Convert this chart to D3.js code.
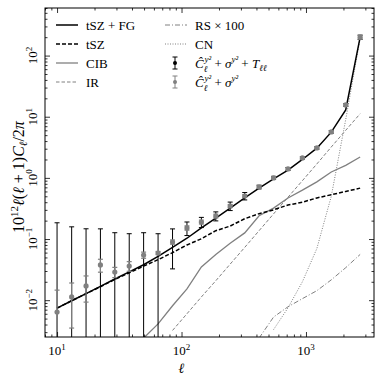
<!DOCTYPE html>
<html>
<head>
<meta charset="utf-8">
<script src="https://cdn.jsdelivr.net/npm/d3@7"></script>
<style>
  body { margin: 0; background: #fff; }
  text { font-family: "Liberation Serif", "DejaVu Serif", serif; fill: #000; }
</style>
</head>
<body>
<div id="chart_area"></div>
<script>
// multipole bins
var ell = [10, 13.1, 17.1, 22.3, 29.1, 38.0, 49.6, 64.8, 84.7, 110.6, 144.4, 188.6,
           246, 322, 420, 549, 717, 936, 1223, 1597, 2086, 2724];

// measured points, C_hat + sigma
var cHat = [0.0064, 0.0113, 0.0171, 0.0377, 0.0289, 0.0362, 0.0548, 0.0591, 0.0895, 0.152,
            0.190, 0.238, 0.347, 0.506, 0.710, 1.00, 1.40, 2.12, 3.09, 5.64, 15.6, 200];
var errGray = [0.0082, 0.0078, 0.0078, 0.009, 0.0055, 0.0065, 0.0063, 0.0035, 0.007, 0.012,
               0.014, 0.017, 0.02, 0.025, 0.03, 0.04, 0.06, 0.08, 0.12, 0.25, 0.7, 14];
var errBlack = [0.178, 0.147, 0.130, 0.109, 0.098, 0.086, 0.072, 0.063, 0.057, 0.038,
                0.036, 0.04, 0.055, 0.07, 0.05, 0.06, 0.08, 0.1, 0.14, 0.28, 0.8, 16];

// model curves
var totFG = [0.0074, 0.0098, 0.0128, 0.0168, 0.0222, 0.029, 0.038, 0.052, 0.073, 0.103,
             0.152, 0.22, 0.32, 0.47, 0.68, 0.96, 1.34, 2.0, 3.06, 5.6, 12.9, 200];
var tsz = [0.0074, 0.0098, 0.0128, 0.0166, 0.0218, 0.028, 0.036, 0.046, 0.060, 0.080,
           0.101, 0.137, 0.163, 0.215, 0.26, 0.30, 0.36, 0.40, 0.47, 0.53, 0.60, 0.68];
var cib = [null, null, null, null, null, null, 0.0024, 0.0041, 0.0081, 0.0153,
           0.035, 0.056, 0.0855, 0.126, 0.24, 0.32, 0.47, 0.63, 0.86, 1.25, 1.6, 2.2];
var ir = [null, null, null, null, null, null, null, null, 0.0032, 0.0060,
          0.0113, 0.0208, 0.0389, 0.073, 0.137, 0.258, 0.483, 0.90, 1.69, 3.2, 6.0, 11.2];
var rs = [null, null, null, null, null, null, null, null, null, null,
          null, null, null, null, 0.0024, 0.0053, 0.0078, 0.0106, 0.0143, 0.0215, 0.034, 0.056];
var cn = [null, null, null, null, null, null, null, null, null, null,
          null, null, null, null, null, 0.0033, 0.0075, 0.02, 0.07, 0.5, 9, 190];

var xTicks = [10, 100, 1000];
var yTicks = [0.01, 0.1, 1, 10, 100];

var W = 382, H = 382;
var m = {left: 45, right: 8, top: 8, bottom: 45};

var svg = d3.select("#chart_area").append("svg")
    .attr("width", W).attr("height", H);

var x = d3.scaleLog().domain([8.0, 3520]).range([m.left, W - m.right]);
var y = d3.scaleLog().domain([0.0025, 600]).range([H - m.bottom, m.top]);

svg.append("clipPath").attr("id", "clip").append("rect")
    .attr("x", m.left).attr("y", m.top)
    .attr("width", W - m.left - m.right).attr("height", H - m.top - m.bottom);

var plot = svg.append("g").attr("clip-path", "url(#clip)");

function series(vals) {
    return ell.map(function (l, i) { return {l: l, v: vals[i]}; });
}
var line = d3.line()
    .defined(function (d) { return d.v != null; })
    .x(function (d) { return x(d.l); })
    .y(function (d) { return y(d.v); });

var grey = "#808080";
var curves = [
    {vals: cn, color: grey, width: 1, dash: "1,1.5"},
    {vals: rs, color: grey, width: 1, dash: "5,2,1,2"},
    {vals: ir, color: grey, width: 1, dash: "3.5,2"},
    {vals: cib, color: grey, width: 1.3, dash: null},
    {vals: tsz, color: "#000", width: 1.5, dash: "4,2"},
    {vals: totFG, color: "#000", width: 1.5, dash: null}
];
curves.forEach(function (c) {
    plot.append("path")
        .datum(series(c.vals))
        .attr("d", line)
        .attr("fill", "none")
        .attr("stroke", c.color)
        .attr("stroke-width", c.width)
        .attr("stroke-dasharray", c.dash);
});

// error bars
function errorbars(errs, color, width) {
    var g = plot.append("g");
    ell.forEach(function (l, i) {
        var lo = cHat[i] - errs[i], hi = cHat[i] + errs[i];
        var yl = lo > 0 ? y(lo) : H, yh = y(hi);
        var xc = x(l);
        g.append("line").attr("x1", xc).attr("x2", xc).attr("y1", yl).attr("y2", yh)
            .attr("stroke", color).attr("stroke-width", width);
        [yl, yh].forEach(function (yy) {
            g.append("line").attr("x1", xc - 2.5).attr("x2", xc + 2.5).attr("y1", yy).attr("y2", yy)
                .attr("stroke", color).attr("stroke-width", width);
        });
    });
}
errorbars(errBlack, "#000", 1);
errorbars(errGray, grey, 1.2);

plot.selectAll(".pt").data(series(cHat)).enter()
    .append("circle")
    .attr("class", "pt")
    .attr("cx", function (d) { return x(d.l); })
    .attr("cy", function (d) { return y(d.v); })
    .attr("r", 2.6)
    .attr("fill", grey);

// axes: ticks inside on all four sides
function minors(dom) {
    var out = [];
    for (var e = Math.floor(Math.log10(dom[0])); e <= Math.ceil(Math.log10(dom[1])); e++) {
        for (var k = 2; k <= 9; k++) {
            var v = k * Math.pow(10, e);
            if (v >= dom[0] && v <= dom[1]) out.push(v);
        }
    }
    return out;
}
var fmt = function () { return ""; };
var axes = [
    {a: d3.axisBottom(x), t: "translate(0," + (H - m.bottom) + ")", sc: x},
    {a: d3.axisTop(x), t: "translate(0," + m.top + ")", sc: x},
    {a: d3.axisLeft(y), t: "translate(" + m.left + ",0)", sc: y},
    {a: d3.axisRight(y), t: "translate(" + (W - m.right) + ",0)", sc: y}
];
axes.forEach(function (ax) {
    var maj = ax.sc === x ? xTicks : yTicks;
    svg.append("g").attr("transform", ax.t)
        .call(ax.a.tickValues(minors(ax.sc.domain())).tickSize(-2.5).tickFormat(fmt))
        .call(function (g) { g.select(".domain").remove(); g.selectAll("line").attr("stroke", "#000").attr("stroke-width", 0.8); });
    svg.append("g").attr("transform", ax.t)
        .call(ax.a.tickValues(maj).tickSize(-5).tickSizeOuter(0).tickFormat(fmt))
        .call(function (g) { g.select(".domain").remove(); g.selectAll("line").attr("stroke", "#000").attr("stroke-width", 0.8); });
});
svg.append("rect")
    .attr("x", m.left).attr("y", m.top)
    .attr("width", W - m.left - m.right).attr("height", H - m.top - m.bottom)
    .attr("fill", "none").attr("stroke", "#000").attr("stroke-width", 1);

function expLabel(sel, v) {
    var e = Math.round(Math.log10(v));
    sel.append("tspan").text("10");
    sel.append("tspan").attr("dy", -5).attr("font-size", 9).text(e < 0 ? "\u2212" + (-e) : e);
}
xTicks.forEach(function (v) {
    svg.append("text").attr("x", x(v)).attr("y", H - m.bottom + 18)
        .attr("text-anchor", "middle").attr("font-size", 13)
        .call(expLabel, v);
});
yTicks.forEach(function (v) {
    svg.append("text")
        .attr("transform", "translate(" + (m.left - 8) + "," + y(v) + ") rotate(-90)")
        .attr("text-anchor", "middle").attr("font-size", 13)
        .call(expLabel, v);
});

svg.append("text").attr("x", x(100)).attr("y", H - 9)
    .attr("text-anchor", "middle").attr("font-size", 14).attr("font-style", "italic").text("\u2113");

var yl = svg.append("text")
    .attr("transform", "translate(24,177) rotate(-90)")
    .attr("text-anchor", "middle").attr("font-size", 16);
yl.append("tspan").text("10");
yl.append("tspan").attr("dy", -6).attr("font-size", 11).text("12");
yl.append("tspan").attr("dy", 6).attr("font-style", "italic").text("\u2113");
yl.append("tspan").text("(");
yl.append("tspan").attr("font-style", "italic").text("\u2113");
yl.append("tspan").text(" + 1)");
yl.append("tspan").attr("font-style", "italic").text("C");
yl.append("tspan").attr("dy", 3).attr("font-size", 11).attr("font-style", "italic").text("\u2113");
yl.append("tspan").attr("dy", -3).text("/2");
yl.append("tspan").attr("font-style", "italic").text("\u03c0");

// legend
var leg = svg.append("g");
var legLines = [
    {c: 0, r: 0, color: "#000", w: 1.5, dash: null, label: "tSZ + FG"},
    {c: 0, r: 1, color: "#000", w: 1.5, dash: "4,2", label: "tSZ"},
    {c: 0, r: 2, color: grey, w: 1.3, dash: null, label: "CIB"},
    {c: 0, r: 3, color: grey, w: 1, dash: "3.5,2", label: "IR"},
    {c: 1, r: 0, color: grey, w: 1, dash: "5,2,1,2", label: "RS \u00d7 100"},
    {c: 1, r: 1, color: grey, w: 1, dash: "1,1.5", label: "CN"}
];
var colX = [56, 165], rowY = [25, 44, 63, 82];
legLines.forEach(function (d) {
    leg.append("line")
        .attr("x1", colX[d.c]).attr("x2", colX[d.c] + 22)
        .attr("y1", rowY[d.r]).attr("y2", rowY[d.r])
        .attr("stroke", d.color).attr("stroke-width", d.w).attr("stroke-dasharray", d.dash);
    leg.append("text").attr("x", colX[d.c] + 30).attr("y", rowY[d.r] + 4.5)
        .attr("font-size", 13).text(d.label);
});
[{r: 2, color: "#000", pc: "#000", extra: true}, {r: 3, color: grey, pc: grey, extra: false}].forEach(function (d) {
    var cx = 175, cy = rowY[d.r];
    leg.append("line").attr("x1", cx).attr("x2", cx).attr("y1", cy - 6).attr("y2", cy + 6)
        .attr("stroke", d.color).attr("stroke-width", 1);
    [cy - 6, cy + 6].forEach(function (yy) {
        leg.append("line").attr("x1", cx - 2.5).attr("x2", cx + 2.5).attr("y1", yy).attr("y2", yy)
            .attr("stroke", d.color).attr("stroke-width", 1);
    });
    leg.append("circle").attr("cx", cx).attr("cy", cy).attr("r", 2).attr("fill", d.pc);
    var t = leg.append("text").attr("x", 195).attr("y", cy + 4.5).attr("font-size", 13);
    t.append("tspan").attr("font-style", "italic").text("\u0108");
    t.append("tspan").attr("dy", 4).attr("font-size", 9).attr("font-style", "italic").text("\u2113");
    t.append("tspan").attr("dy", -10).attr("dx", -3).attr("font-size", 9).attr("font-style", "italic").text("y\u00b2");
    t.append("tspan").attr("dy", 6).text(" + ");
    t.append("tspan").attr("font-style", "italic").text("\u03c3");
    t.append("tspan").attr("dy", -6).attr("font-size", 9).attr("font-style", "italic").text("y\u00b2");
    if (d.extra) {
        t.append("tspan").attr("dy", 6).text(" + ");
        t.append("tspan").attr("font-style", "italic").text("T");
        t.append("tspan").attr("dy", 3).attr("font-size", 9).attr("font-style", "italic").text("\u2113\u2113");
    }
});
</script>
</body>
</html>
